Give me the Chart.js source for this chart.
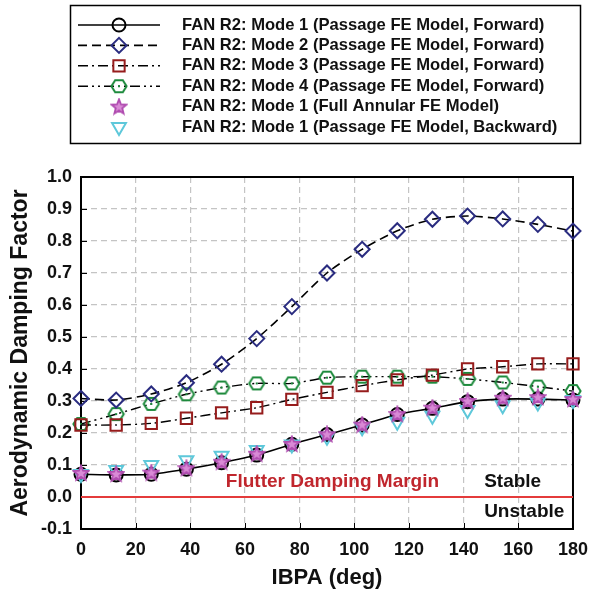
<!DOCTYPE html>
<html><head><meta charset="utf-8">
<script src="https://cdn.jsdelivr.net/npm/chart.js@4.4.1/dist/chart.umd.min.js"></script>
<style>html,body{margin:0;padding:0;background:#fff;overflow:hidden}#wrap{width:598px;height:593px;position:relative}</style>
</head><body><div id="wrap"><canvas id="c" width="598" height="593"></canvas></div>
<script>
// ---- data ----
const ibpa = [0, 12.86, 25.71, 38.57, 51.43, 64.29, 77.14, 90, 102.86, 115.71, 128.57, 141.43, 154.29, 167.14, 180];
const mode1Fwd  = [0.071, 0.069, 0.071, 0.087, 0.107, 0.131, 0.165, 0.195, 0.225, 0.258, 0.277, 0.298, 0.306, 0.306, 0.303];
const mode2Fwd  = [0.308, 0.303, 0.322, 0.357, 0.415, 0.495, 0.595, 0.700, 0.774, 0.832, 0.868, 0.878, 0.869, 0.852, 0.831];
const mode3Fwd  = [0.225, 0.225, 0.230, 0.246, 0.263, 0.279, 0.305, 0.327, 0.348, 0.366, 0.381, 0.400, 0.407, 0.416, 0.416];
const mode4Fwd  = [0.228, 0.259, 0.291, 0.321, 0.342, 0.355, 0.355, 0.373, 0.376, 0.376, 0.376, 0.369, 0.358, 0.345, 0.331];
const mode1Full = [0.075, 0.072, 0.076, 0.090, 0.110, 0.135, 0.166, 0.196, 0.226, 0.259, 0.279, 0.300, 0.310, 0.312, 0.306];
const mode1Bwd  = [0.072, 0.084, 0.100, 0.115, 0.129, 0.147, 0.164, 0.188, 0.218, 0.235, 0.254, 0.272, 0.287, 0.295, 0.303];
const marginLine = [0, 0];
const marginX = [0, 180];
const seriesLabels = [
  'FAN R2: Mode 1 (Passage FE Model, Forward)',
  'FAN R2: Mode 2 (Passage FE Model, Forward)',
  'FAN R2: Mode 3 (Passage FE Model, Forward)',
  'FAN R2: Mode 4 (Passage FE Model, Forward)',
  'FAN R2: Mode 1 (Full Annular FE Model)',
  'FAN R2: Mode 1 (Passage FE Model, Backward)'
];
const xTicks = [0, 20, 40, 60, 80, 100, 120, 140, 160, 180];
const yTicks = [-0.1, 0.0, 0.1, 0.2, 0.3, 0.4, 0.5, 0.6, 0.7, 0.8, 0.9, 1.0];
const notes = [
  {text: 'Flutter Damping Margin', x: 53, y: 0.048, color: '#c0262d'},
  {text: 'Stable', x: 147.5, y: 0.048, color: '#111'},
  {text: 'Unstable', x: 147.5, y: -0.047, color: '#111'}
];

// ---- marker images ----
function hexImg(color){
  const c=document.createElement('canvas'); c.width=c.height=20;
  const g=c.getContext('2d'); g.strokeStyle=color; g.lineWidth=2; g.beginPath();
  for(let i=0;i<6;i++){const a=i*Math.PI/3; const px=10+7.6*Math.cos(a), py=10+7*Math.sin(a); i?g.lineTo(px,py):g.moveTo(px,py);}
  g.closePath(); g.stroke(); g.fillStyle=color; g.fillRect(9,9,2,2); return c;
}
function starImg(color){
  const c=document.createElement('canvas'); c.width=c.height=18;
  const g=c.getContext('2d'); g.beginPath();
  for(let i=0;i<10;i++){const r=i%2?3.4:7.8; const a=-Math.PI/2+i*Math.PI/5; const px=9+r*Math.cos(a), py=9.5+r*Math.sin(a); i?g.lineTo(px,py):g.moveTo(px,py);}
  g.closePath(); g.fillStyle='#d98ad6'; g.fill(); g.strokeStyle=color; g.lineWidth=1.8; g.stroke(); return c;
}
const pts = arr => arr.map((v,i)=>({x: ibpa[i], y: v}));

const datasets = [
  {label: seriesLabels[0], data: pts(mode1Fwd), borderColor:'#000', borderWidth:1.6, showLine:true,
   pointStyle:'circle', pointRadius:6.5, pointBorderColor:'#000', pointBorderWidth:2, pointBackgroundColor:'rgba(0,0,0,0)', order:3},
  {label: seriesLabels[1], data: pts(mode2Fwd), borderColor:'#000', borderWidth:1.6, borderDash:[9,5], showLine:true,
   pointStyle:'rectRot', pointRadius:7.5, pointBorderColor:'#2a2c80', pointBorderWidth:2, pointBackgroundColor:'rgba(0,0,0,0)', order:4},
  {label: seriesLabels[2], data: pts(mode3Fwd), borderColor:'#000', borderWidth:1.4, borderDash:[10,4,2,4], showLine:true,
   pointStyle:'rect', pointRadius:8, pointBorderColor:'#961c1c', pointBorderWidth:2, pointBackgroundColor:'rgba(0,0,0,0)', order:5},
  {label: seriesLabels[3], data: pts(mode4Fwd), borderColor:'#000', borderWidth:1.4, borderDash:[10,4,2,4,2,4], showLine:true,
   pointStyle: hexImg('#1d8a3c'), pointRadius:7, pointBorderColor:'#1d8a3c', order:6},
  {label: seriesLabels[4], data: pts(mode1Full), showLine:false, borderColor:'#b04cb0',
   pointStyle: starImg('#b04cb0'), pointRadius:7, pointBorderColor:'#b04cb0', order:1},
  {label: seriesLabels[5], data: pts(mode1Bwd), showLine:false, borderColor:'#5ec8da',
   pointStyle:'triangle', pointRotation:180, pointRadius:8, pointBorderColor:'#5ec8da', pointBorderWidth:2, pointBackgroundColor:'rgba(0,0,0,0)', order:2},
  {label: 'margin', data: marginLine.map((v,i)=>({x: marginX[i], y: v})), borderColor:'#e43b3b', borderWidth:2, pointRadius:0, showLine:true, noLegend:true, order:7}
];
datasets.forEach(d=>{d.clip=false; d.tension=0.25; d.pointHoverRadius=d.pointRadius; d.fill=false;});

const FONT = '"Liberation Sans", Arial, sans-serif';

const framePlugin = {
  id:'frame',
  beforeDatasetsDraw(chart){
    const {ctx, chartArea:a, scales} = chart;
    ctx.save();
    ctx.strokeStyle='#000'; ctx.lineWidth=1;
    scales.y.ticks.forEach(t=>{const y=Math.round(scales.y.getPixelForValue(t.value))+0.5; ctx.beginPath(); ctx.moveTo(a.left,y); ctx.lineTo(a.left+6,y); ctx.stroke();});
    scales.x.ticks.forEach(t=>{const x=Math.round(scales.x.getPixelForValue(t.value))+0.5; ctx.beginPath(); ctx.moveTo(x,a.bottom); ctx.lineTo(x,a.bottom-6); ctx.stroke();});
    ctx.lineWidth=2;
    ctx.strokeRect(a.left, a.top, a.right-a.left, a.bottom-a.top);
    ctx.font='bold 19px '+FONT; ctx.textBaseline='middle'; ctx.textAlign='left';
    notes.forEach(n=>{ctx.fillStyle=n.color; ctx.fillText(n.text, scales.x.getPixelForValue(n.x), scales.y.getPixelForValue(n.y));});
    ctx.restore();
  },
  afterDraw(chart){
    const ctx=chart.ctx; ctx.save();
    ctx.strokeStyle='#000'; ctx.lineWidth=1.5;
    ctx.strokeRect(70.5, 5.5, 510, 138);
    let row=0;
    chart.data.datasets.forEach((ds)=>{
      if(ds.noLegend) return;
      const y = 25 + row*20.4; row++;
      if(ds.showLine){
        ctx.save(); ctx.strokeStyle=ds.borderColor; ctx.lineWidth=ds.borderWidth; ctx.setLineDash(ds.borderDash||[]);
        ctx.beginPath(); ctx.moveTo(78,y); ctx.lineTo(160,y); ctx.stroke(); ctx.restore();
      }
      ctx.save();
      ctx.strokeStyle=ds.pointBorderColor; ctx.fillStyle=ds.pointBackgroundColor||'rgba(0,0,0,0)'; ctx.lineWidth=ds.pointBorderWidth||2;
      Chart.helpers.drawPoint(ctx, {pointStyle: ds.pointStyle, rotation: ds.pointRotation||0, radius: ds.pointRadius, borderWidth: ds.pointBorderWidth||2}, 119, y);
      ctx.restore();
      ctx.fillStyle='#111'; ctx.font='bold 16.6px '+FONT; ctx.textBaseline='middle'; ctx.textAlign='left';
      ctx.fillText(ds.label, 182, y);
    });
    ctx.restore();
  }
};

new Chart(document.getElementById('c'), {
  type:'scatter',
  data:{datasets},
  options:{
    responsive:false, animation:false, devicePixelRatio:1,
    layout:{padding:{top:177, right:23, left:0, bottom:0}},
    plugins:{legend:{display:false}, tooltip:{enabled:false}},
    scales:{
      x:{type:'linear', min:0, max:180,
         afterBuildTicks:s=>{s.ticks=xTicks.map(v=>({value:v}));},
         afterFit:s=>{s.height=64;},
         border:{display:false, dash:[6,4]},
         grid:{color:'#c4c4c4', lineWidth:1.2, drawTicks:false},
         ticks:{padding:10, color:'#111', font:{family:FONT, size:18, weight:'bold'}, callback:v=>String(v)},
         title:{display:true, text:'IBPA (deg)', color:'#111', font:{family:FONT, size:22, weight:'bold'}, padding:{top:0,bottom:2}}
      },
      y:{type:'linear', min:-0.1, max:1.0,
         afterBuildTicks:s=>{s.ticks=yTicks.map(v=>({value:v}));},
         afterFit:s=>{s.width=81;},
         border:{display:false, dash:[6,4]},
         grid:{color:'#c4c4c4', lineWidth:1.2, drawTicks:false},
         ticks:{padding:9, color:'#111', font:{family:FONT, size:18, weight:'bold'}, callback:v=>Number(v).toFixed(1)},
         title:{display:true, text:'Aerodynamic Damping Factor', color:'#111', font:{family:FONT, size:23, weight:'bold'}, padding:{top:7,bottom:0}}
      }
    }
  },
  plugins:[framePlugin]
});
</script></body></html>
